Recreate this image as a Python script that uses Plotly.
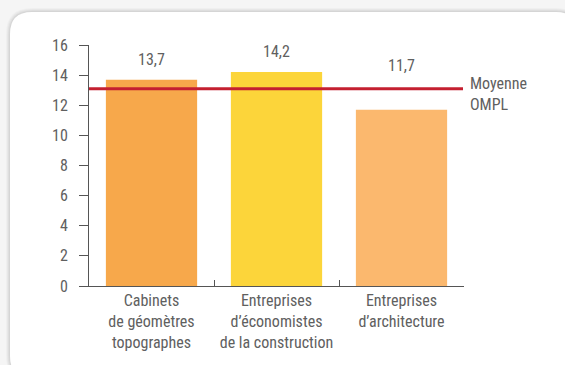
import plotly.graph_objects as go

categories = ["Cabinets<br>de géomètres<br>topographes",
              "Entreprises<br>d’économistes<br>de la construction",
              "Entreprises<br>d’architecture"]
values = [13.7, 14.2, 11.7]
bar_colors = ["#f7a84b", "#fcd53a", "#fbb86e"]
mean_value = 13.1
mean_label = "Moyenne<br>OMPL"
y_ticks = [0, 2, 4, 6, 8, 10, 12, 14, 16]

W, H = 565, 365
L, R, T, B = 89, 101, 45, 79
pw, ph = W - L - R, H - T - B

def px(x):
    return (x - L) / pw

def py(y):
    return (H - B - y) / ph

FONT = "Roboto Condensed, DejaVu Sans Condensed, Liberation Sans Narrow, Roboto, sans-serif"
TXT = "#606060"
FS = 16

fig = go.Figure()
fig.add_trace(go.Bar(
    x=categories, y=values, marker=dict(color=bar_colors, line=dict(width=0)),
    width=0.73, showlegend=False, hoverinfo="skip"))

# mean line
fig.add_shape(type="line", xref="paper", yref="y", x0=px(89), x1=px(463),
              y0=mean_value, y1=mean_value, layer="above",
              line=dict(color="#c41f30", width=3))

# value labels (kept clear of the mean line)
for c, v in zip(categories, values):
    fig.add_annotation(x=c, y=max(v, mean_value + 0.15), text=f"{v:.1f}".replace(".", ","),
                       showarrow=False, yanchor="bottom", yshift=9,
                       font=dict(size=FS, color=TXT, family=FONT))

fig.add_annotation(x=px(468), xref="paper", y=mean_value, text=mean_label, showarrow=False,
                   xanchor="left", yanchor="middle", yshift=-5, align="left",
                   font=dict(size=FS, color=TXT, family=FONT))

# card shape (rounded rect) in paper coords
x0, y0, x1, y1, r = 10, 12, 578, 378, 22
def pt(x, y):
    return f"{px(x):.5f},{py(y):.5f}"

def rrect(a0, b0, a1, b1, rr):
    return (f"M {pt(a0 + rr, b0)} L {pt(a1 - rr, b0)} Q {pt(a1, b0)} {pt(a1, b0 + rr)} "
            f"L {pt(a1, b1 - rr)} Q {pt(a1, b1)} {pt(a1 - rr, b1)} L {pt(a0 + rr, b1)} "
            f"Q {pt(a0, b1)} {pt(a0, b1 - rr)} L {pt(a0, b0 + rr)} Q {pt(a0, b0)} {pt(a0 + rr, b0)} Z")

for i, op in enumerate([0.025, 0.03, 0.035, 0.04]):
    d = 4 - i
    fig.add_shape(type="path", path=rrect(x0 - d, y0 - d, x1 + d, y1 + d, r + d),
                  xref="paper", yref="paper", layer="below",
                  fillcolor=f"rgba(0,0,0,{op})", line=dict(width=0))
fig.add_shape(type="path", path=rrect(x0, y0, x1, y1, r), xref="paper", yref="paper",
              layer="below", fillcolor="white", line=dict(width=0))

fig.update_layout(
    width=W, height=H, margin=dict(l=L, r=R, t=T, b=B),
    paper_bgcolor="#f5f5f5", plot_bgcolor="rgba(0,0,0,0)",
    font=dict(family=FONT, size=FS, color=TXT),
    bargap=0.27,
)
fig.update_xaxes(
    range=[-0.5, 2.5], showgrid=False, zeroline=False,
    showline=True, linecolor="#555555", linewidth=1,
    ticks="inside", tickson="boundaries", ticklen=6, tickcolor="#555555",
    tickfont=dict(size=FS, color=TXT, family=FONT), fixedrange=True)
fig.update_yaxes(
    range=[0, 16], tickvals=y_ticks, showgrid=False, zeroline=False,
    showline=True, linecolor="#555555", linewidth=1,
    ticks="outside", ticklen=9, tickcolor="#555555", ticklabelstandoff=8,
    tickfont=dict(size=FS, color=TXT, family=FONT), fixedrange=True)

fig.write_html("out.html")
